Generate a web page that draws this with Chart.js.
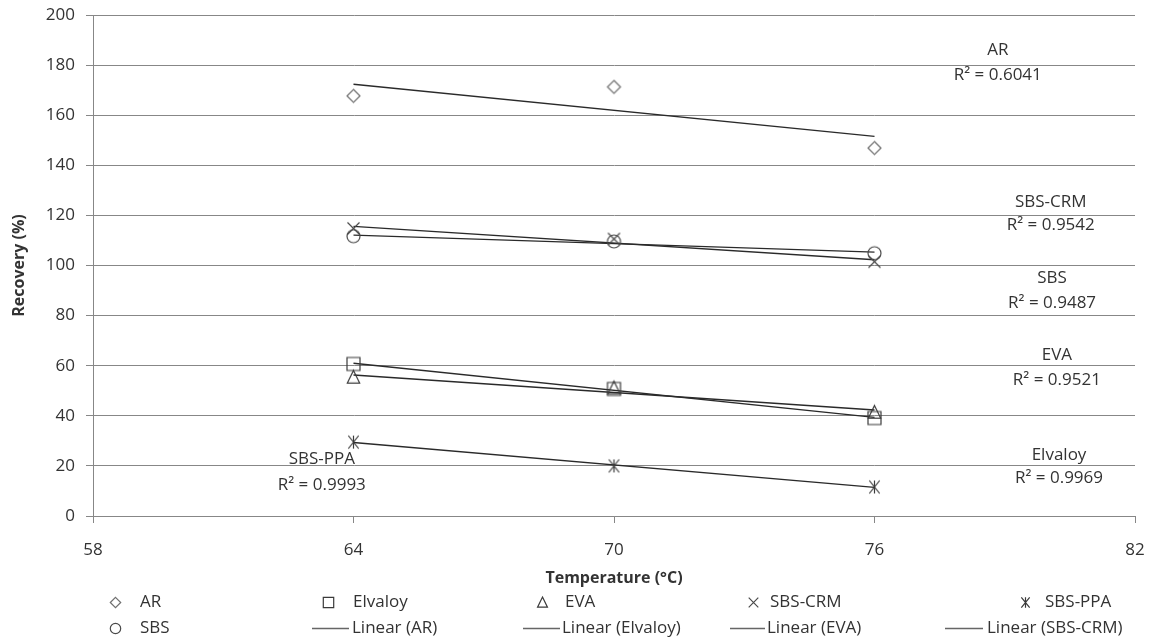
<!DOCTYPE html>
<html>
<head>
<meta charset="utf-8">
<title>Recovery vs temperature</title>
<script src="https://cdn.jsdelivr.net/npm/chart.js@4.4.1/dist/chart.umd.min.js"></script>
<style>
  html, body { margin: 0; padding: 0; background: #fff; }
  #wrap { width: 1151px; height: 640px; }
</style>
</head>
<body>
<div id="wrap"><canvas id="c" width="1151" height="640"></canvas></div>
<script>
/* Recovery (%) vs temperature, one linear trend per binder. */
const temps = [64, 70, 76];
const binders = ['AR', 'Elvaloy', 'EVA', 'SBS-CRM', 'SBS-PPA', 'SBS'];
const recAR = [167.7, 171.3, 146.9];
const recElvaloy = [60.7, 50.7, 39.1];
const recEVA = [55.4, 51.1, 41.4];
const recSBSCRM = [114.8, 110.6, 101.5];
const recSBSPPA = [29.5, 20.0, 11.6];
const recSBS = [111.7, 109.6, 104.9];
const r2Values = ['0.6041', '0.9969', '0.9521', '0.9542', '0.9993', '0.9487'];
const xTicks = [58, 64, 70, 76, 82];
const yTicks = [0, 20, 40, 60, 80, 100, 120, 140, 160, 180, 200];

const series = [recAR, recElvaloy, recEVA, recSBSCRM, recSBSPPA, recSBS];

// estilo / layout (no son datos)
const FONT = "'Open Sans', sans-serif";
const TXT = '#333';
const GRID = '#878787';
const marks = [
  { kind: 'diamond', r: 6.5, color: '#707070' },
  { kind: 'square', r: 6.5, color: '#3a3a3a' },
  { kind: 'triangle', r: 6.5, color: '#3a3a3a' },
  { kind: 'x', r: 6, color: '#4a4a4a' },
  { kind: 'star', r: 6.5, color: '#3a3a3a' },
  { kind: 'circle', r: 6.5, color: '#4a4a4a' },
];
// centro de las etiquetas de tendencia, en unidades de los ejes: [x, y nombre, y R²]
const trendLabelAt = [
  [78.84, 186.0, 176.0],
  [80.25, 24.4, 15.2],
  [80.20, 64.3, 54.3],
  [80.06, 125.3, 116.2],
  [63.27, 22.8, 12.4],
  [80.09, 95.0, 85.0],
];
// leyenda tipo Excel, dos filas (x del símbolo, x del texto)
const legendRow1 = [[115, 140, 0], [328, 353, 1], [542, 565, 2], [753, 770, 3], [1025, 1045, 4]];
const legendRow2 = [[115, 140, 5], [312, 352, 0, 349], [523, 562, 1, 560], [730, 767, 2, 765], [945, 987, 3, 983]];
const legendY = [602, 628];

function drawMark(ctx, kind, x, y, r) {
  ctx.beginPath();
  if (kind === 'diamond') {
    ctx.moveTo(x, y - r); ctx.lineTo(x + r, y); ctx.lineTo(x, y + r); ctx.lineTo(x - r, y); ctx.closePath();
  } else if (kind === 'square') {
    ctx.rect(x - r, y - r, 2 * r, 2 * r);
  } else if (kind === 'triangle') {
    ctx.moveTo(x, y - r * 1.05); ctx.lineTo(x + r * 0.95, y + r * 0.9); ctx.lineTo(x - r * 0.95, y + r * 0.9); ctx.closePath();
  } else if (kind === 'circle') {
    ctx.arc(x, y, r, 0, Math.PI * 2);
  } else if (kind === 'x') {
    ctx.moveTo(x - r, y - r); ctx.lineTo(x + r, y + r); ctx.moveTo(x + r, y - r); ctx.lineTo(x - r, y + r);
  } else if (kind === 'star') {
    ctx.moveTo(x - r * 0.8, y - r); ctx.lineTo(x + r * 0.8, y + r);
    ctx.moveTo(x + r * 0.8, y - r); ctx.lineTo(x - r * 0.8, y + r);
    ctx.moveTo(x, y - r); ctx.lineTo(x, y + r);
  }
  ctx.stroke();
}

function markerImg(m, scale) {
  const r = m.r * (scale || 1);
  const c = document.createElement('canvas');
  c.width = c.height = 2 * Math.ceil(r) + 5;
  const g = c.getContext('2d');
  g.strokeStyle = m.color;
  g.lineWidth = 1.2;
  drawMark(g, m.kind, c.width / 2, c.height / 2, r);
  return c;
}

// mínimos cuadrados, como la línea de tendencia de Excel
function fit(xs, ys) {
  const n = xs.length;
  const mx = xs.reduce((a, b) => a + b, 0) / n, my = ys.reduce((a, b) => a + b, 0) / n;
  let sxy = 0, sxx = 0;
  xs.forEach((x, i) => { sxy += (x - mx) * (ys[i] - my); sxx += (x - mx) * (x - mx); });
  const m = sxy / sxx;
  return { m, b: my - m * mx };
}

const datasets = [];
series.forEach((vals, i) => {
  datasets.push({
    type: 'scatter', label: binders[i],
    data: temps.map((t, k) => ({ x: t, y: vals[k] })),
    pointStyle: markerImg(marks[i]), pointRadius: 7, showLine: false,
  });
});
series.forEach((vals, i) => {
  const f = fit(temps, vals);
  const x0 = Math.min(...temps), x1 = Math.max(...temps);
  datasets.push({
    type: 'line', label: 'Linear (' + binders[i] + ')',
    data: [{ x: x0, y: f.m * x0 + f.b }, { x: x1, y: f.m * x1 + f.b }],
    borderColor: '#2a2a2a', borderWidth: 1.4, pointRadius: 0, fill: false, tension: 0,
  });
});

const trendLabels = {
  id: 'trendLabels',
  afterDatasetsDraw(chart) {
    const { ctx, scales: { x, y } } = chart;
    ctx.save();
    ctx.font = '17px ' + FONT;
    ctx.fillStyle = TXT;
    ctx.textAlign = 'center';
    ctx.textBaseline = 'middle';
    trendLabelAt.forEach((p, i) => {
      const px = x.getPixelForValue(p[0]);
      ctx.fillText(binders[i], px, y.getPixelForValue(p[1]));
      ctx.fillText('R² = ' + r2Values[i], px, y.getPixelForValue(p[2]));
    });
    ctx.restore();
  },
};

const excelLegend = {
  id: 'excelLegend',
  afterDraw(chart) {
    const ctx = chart.ctx;
    ctx.save();
    ctx.font = '17px ' + FONT;
    ctx.fillStyle = TXT;
    ctx.textAlign = 'left';
    ctx.textBaseline = 'middle';
    legendRow1.forEach(([mx, tx, i]) => {
      const img = markerImg(marks[i], 0.8);
      ctx.drawImage(img, Math.round(mx - img.width / 2), Math.round(legendY[0] - img.height / 2));
      ctx.fillText(binders[i], tx, legendY[0]);
    });
    legendRow2.forEach(([mx, tx, i, ex]) => {
      if (ex === undefined) {
        const img = markerImg(marks[i], 0.8);
        ctx.drawImage(img, Math.round(mx - img.width / 2), Math.round(legendY[1] - img.height / 2));
        ctx.fillText(binders[i], tx, legendY[1]);
      } else {
        ctx.strokeStyle = '#666';
        ctx.lineWidth = 1.4;
        ctx.beginPath(); ctx.moveTo(mx, legendY[1] + 0.5); ctx.lineTo(ex, legendY[1] + 0.5); ctx.stroke();
        ctx.fillText('Linear (' + binders[i] + ')', tx, legendY[1]);
      }
    });
    ctx.restore();
  },
};

new Chart(document.getElementById('c'), {
  type: 'scatter',
  data: { datasets },
  plugins: [trendLabels, excelLegend],
  options: {
    responsive: false,
    animation: false,
    layout: { padding: { top: 15, right: 16, bottom: 50, left: 0 } },
    plugins: { legend: { display: false }, tooltip: { enabled: false } },
    scales: {
      x: {
        type: 'linear', min: 58, max: 82,
        afterBuildTicks: s => { s.ticks = xTicks.map(v => ({ value: v })); },
        // área de trazado fija: sin relleno extra por las etiquetas
        afterFit: s => { s.height = 74; s.paddingLeft = 0; s.paddingRight = 0; },
        ticks: { font: { family: FONT, size: 17 }, color: TXT, padding: 17, maxRotation: 0 },
        grid: { drawOnChartArea: false, drawTicks: true, tickLength: 7, color: GRID },
        border: { color: GRID },
        title: { display: true, text: 'Temperature (°C)', color: TXT, font: { family: FONT, size: 16, weight: 'bold' }, padding: { top: 0, bottom: 2 } },
      },
      y: {
        min: 0, max: 200,
        afterBuildTicks: s => { s.ticks = yTicks.map(v => ({ value: v })); },
        afterFit: s => { s.width = 93; s.paddingTop = 0; s.paddingBottom = 0; },
        ticks: { font: { family: FONT, size: 17 }, color: TXT, padding: 11 },
        grid: { color: GRID, tickLength: 7 },
        border: { color: GRID },
        title: { display: true, text: 'Recovery (%)', color: TXT, font: { family: FONT, size: 16, weight: 'bold' }, padding: { top: 10, bottom: 0 } },
      },
    },
  },
});
</script>
</body>
</html>
